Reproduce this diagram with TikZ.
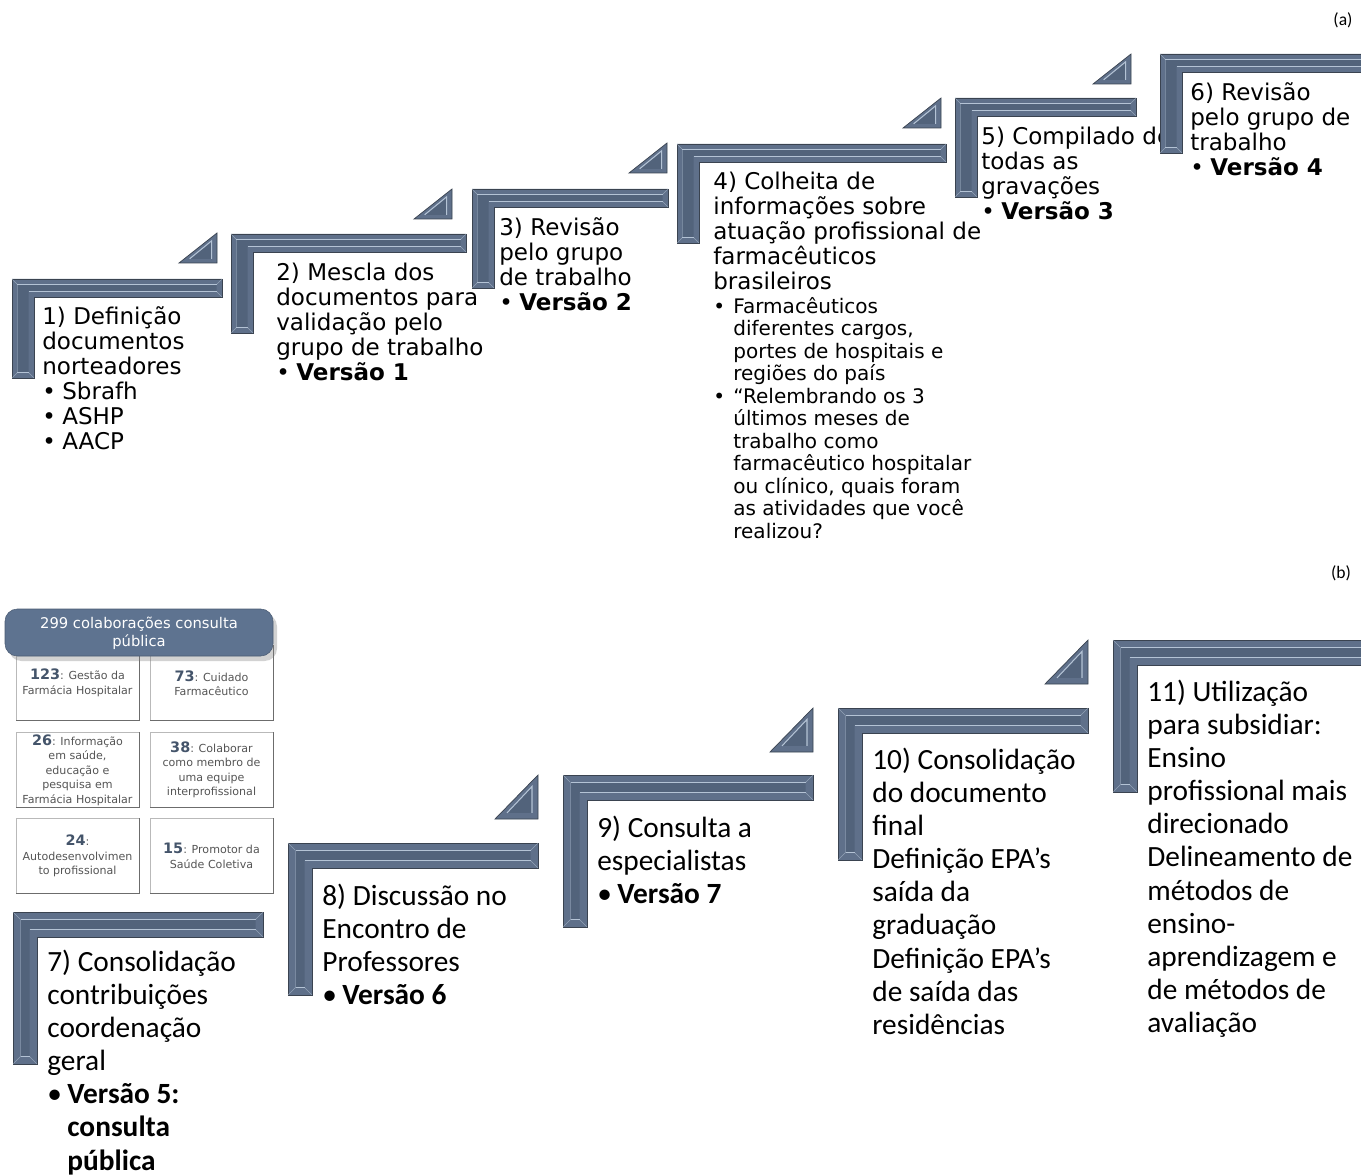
\documentclass[tikz,border=0pt]{standalone}
\usepackage{fontspec}
\setmainfont{DejaVu Sans}
\newfontfamily\calibri{Carlito}
\usetikzlibrary{shadows}

\definecolor{slate}{HTML}{52637B}
\definecolor{slateouter}{HTML}{5F708A}
\definecolor{slatelight}{HTML}{B4C3D5}
\definecolor{slateedge}{HTML}{3A4350}
\definecolor{headfill}{HTML}{5E7390}
\definecolor{numblue}{HTML}{44546A}
\definecolor{boxtext}{HTML}{555555}

\newcommand{\topbar}{18}
\newcommand{\topleg}{99}
\newcommand{\botbar}{25}
\newcommand{\botleg}{152}

\newcommand{\bul}{\makebox[0.4cm][l]{\textbullet}}
\newcommand{\ind}{\hspace*{0.4cm}}
\newcommand{\cnt}[1]{{\fontsize{8.2}{9}\selectfont\bfseries\color{numblue}#1}}

% L-shaped step: x, y, length, bar, leg width, leg height
\newcommand{\stair}[6]{%
	\filldraw[stepbody] (#1,#2) -- ++(#3,0) -- ++(0,#4) -- (#1+#5,#2+#4) -- (#1+#5,#2+#6) -- (#1,#2+#6) -- cycle;
	\fill[slate] (#1+0.3*#4,#2+0.3*#4) -- (#1+#3-0.3*#4,#2+0.3*#4) -- (#1+#3-0.3*#4,#2+0.7*#4) -- (#1+#5-0.3*#4,#2+0.7*#4) -- (#1+#5-0.3*#4,#2+#6-0.3*#4) -- (#1+0.3*#4,#2+#6-0.3*#4) -- cycle;
	\draw[stepbevel] (#1+0.3*#4,#2+0.3*#4) -- (#1+#3-0.3*#4,#2+0.3*#4);
	\draw[stepbevel] (#1+#5-0.3*#4,#2+0.7*#4) -- (#1+#3-0.3*#4,#2+0.7*#4);
	\draw[stepbevel] (#1+0.3*#4,#2+#6-0.3*#4) -- (#1+#5-0.3*#4,#2+#6-0.3*#4);
	\draw[stepbevel, opacity=0.35] (#1+0.3*#4,#2+0.3*#4) -- (#1+0.3*#4,#2+#6-0.3*#4);
	\draw[stepmitre] (#1,#2) -- (#1+0.3*#4,#2+0.3*#4) (#1+#3,#2) -- (#1+#3-0.3*#4,#2+0.3*#4) (#1+#3,#2+#4) -- (#1+#3-0.3*#4,#2+0.7*#4) (#1,#2+#6) -- (#1+0.3*#4,#2+#6-0.3*#4) (#1+#5,#2+#6) -- (#1+#5-0.3*#4,#2+#6-0.3*#4);
}
% small wedge: right, bottom, width, height
\newcommand{\stairwedge}[4]{%
	\filldraw[stepbody] (#1-#3,#2) -- (#1,#2) -- (#1,#2-#4) -- cycle;
	\fill[slate] (#1-0.72*#3,#2-0.14*#4) -- (#1-0.14*#3,#2-0.14*#4) -- (#1-0.14*#3,#2-0.74*#4) -- cycle;
	\draw[stepbevel] (#1-0.72*#3,#2-0.14*#4) -- (#1-0.14*#3,#2-0.74*#4) -- (#1-0.14*#3,#2-0.14*#4);
}

\tikzset{
	stepbody/.style={fill=slateouter, draw=slateedge, line width=0.4pt},
	stepbevel/.style={draw=slatelight, line width=0.6pt},
	stepmitre/.style={draw=slatelight, line width=0.3pt, opacity=0.6},
	toptext/.style={anchor=north west, inner sep=0pt, align=left, font={\fontsize{13.1}{14.23}\selectfont}},
	subtext/.style={anchor=north west, inner sep=0pt, align=left, font={\fontsize{11.4}{12.8}\selectfont}},
	bottext/.style={anchor=north west, inner sep=0pt, align=left, font={\calibri\fontsize{16.7}{18.8}\selectfont}},
	cattext/.style={inner sep=0pt, align=center, text=boxtext, font={\fontsize{6.3}{8.25}\selectfont}},
}

\begin{document}
\begin{tikzpicture}[x=0.02cm, y=-0.02cm]
	\useasboundingbox[fill=white] (0,0) rectangle (1361,1175);

	\node[inner sep=0pt, font={\calibri\fontsize{10}{12}\selectfont}] (lbla) at (1343,20) {(a)};
	\node[inner sep=0pt, font={\calibri\fontsize{10}{12}\selectfont}] (lblb) at (1341,573) {(b)};

	% (a) texts
	\node[toptext] (s1) at (42,306) {1) Definição\\documentos\\norteadores\\\bul Sbrafh\\\bul ASHP\\\bul AACP};
	\node[toptext] (s2) at (276,263) {2) Mescla dos\\documentos para\\validação pelo\\grupo de trabalho\\\bul\textbf{Versão 1}};
	\node[toptext] (s3) at (499,217) {3) Revisão\\pelo grupo\\de trabalho\\\bul\textbf{Versão 2}};
	\node[toptext] (s4) at (713,172) {4) Colheita de\\informações sobre\\atuação profissional de\\farmacêuticos\\brasileiros};
	\node[subtext] (s4b) at (713,297) {\bul Farmacêuticos\\\ind diferentes cargos,\\\ind portes de hospitais e\\\ind regiões do país\\\bul “Relembrando os 3\\\ind últimos meses de\\\ind trabalho como\\\ind farmacêutico hospitalar\\\ind ou clínico, quais foram\\\ind as atividades que você\\\ind realizou?};
	\node[toptext] (s5) at (981,127) {5) Compilado de\\todas as\\gravações\\\bul\textbf{Versão 3}};
	\node[toptext] (s6) at (1190,82) {6) Revisão\\pelo grupo de\\trabalho\\\bul\textbf{Versão 4}};

	\foreach \x/\y/\len in {12/279/210,231/234/235,472/189/196,677/144/269,955/98/181,1160/54/230}
	{
		\stair{\x}{\y}{\len}{\topbar}{22}{\topleg}
	}
	\foreach \r/\b in {217/263,452/219,667/173,941/128,1131/84}
	{
		\stairwedge{\r}{\b}{38}{30}
	}

	% (b) texts
	\node[bottext] (s7) at (47,950) {7) Consolidação\\contribuições\\coordenação\\geral\\\bul\textbf{Versão 5:}\\\ind\textbf{consulta}\\\ind\textbf{pública}};
	\node[bottext] (s8) at (322,884) {8) Discussão no\\Encontro de\\Professores\\\bul\textbf{Versão 6}};
	\node[bottext] (s9) at (597,816) {9) Consulta a\\especialistas\\\bul\textbf{Versão 7}};
	\node[bottext] (s10) at (872,748) {10) Consolidação\\do documento\\final\\Definição EPA’s\\saída da\\graduação\\Definição EPA’s\\de saída das\\residências};
	\node[bottext] (s11) at (1147,680) {11) Utilização\\para subsidiar:\\Ensino\\profissional mais\\direcionado\\Delineamento de\\métodos de\\ensino-\\aprendizagem e\\de métodos de\\avaliação};

	\foreach \x/\y/\len in {13/912/250,288/843/250,563/775/250,838/708/250,1113/640/260}
	{
		\stair{\x}{\y}{\len}{\botbar}{24}{\botleg}
	}
	\foreach \r/\b in {538/819,813/752,1088/684}
	{
		\stairwedge{\r}{\b}{43}{44}
	}

	% contributions panel
	\foreach \i/\x/\y/\txt in {1/16/645/{\cnt{123}: Gestão da\\Farmácia Hospitalar},
		2/150/645/{\cnt{73}: Cuidado\\Farmacêutico},
		3/16/732/{\cnt{26}: Informação\\em saúde,\\educação e\\pesquisa em\\Farmácia Hospitalar},
		4/150/732/{\cnt{38}: Colaborar\\como membro de\\uma equipe\\interprofissional},
		5/16/818/{\cnt{24}:\\Autodesenvolvimen\\to profissional},
		6/150/818/{\cnt{15}: Promotor da\\Saúde Coletiva}}
	{
		\draw[fill=white, draw=gray!55] (\x,\y) rectangle (\x+123,\y+75);
		\draw[gray!85!black] (\x,\y+75) -- (\x+123,\y+75) -- (\x+123,\y);
		\node[cattext] (c\i) at (\x+61.5,\y+38) {\txt};
	}

	\filldraw[rounded corners=7, fill=headfill, draw=headfill!80!black, line width=0.3pt, drop shadow={opacity=0.35, shadow xshift=0.08cm, shadow yshift=-0.1cm}] (5,609) rectangle (273,656);
	\node[inner sep=0pt, align=center, text=white, font={\fontsize{8.4}{10.2}\selectfont}] (head) at (139,633) {299 colaborações consulta\\pública};

\end{tikzpicture}
\end{document}
